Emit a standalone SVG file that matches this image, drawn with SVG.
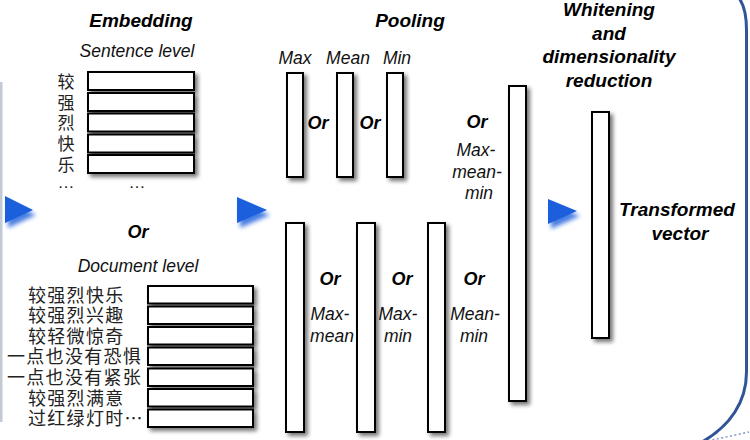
<svg xmlns="http://www.w3.org/2000/svg" width="750" height="440" viewBox="0 0 750 440">
  <defs>
    <filter id="boxShadow" x="-50%" y="-50%" width="200%" height="200%">
      <feGaussianBlur in="SourceAlpha" stdDeviation="2"/>
      <feOffset dx="3" dy="3" result="blur"/>
      <feComponentTransfer><feFuncA type="linear" slope="0.55"/></feComponentTransfer>
      <feMerge><feMergeNode/><feMergeNode in="SourceGraphic"/></feMerge>
    </filter>
    <filter id="arrowShadow" x="-50%" y="-50%" width="200%" height="200%">
      <feGaussianBlur in="SourceGraphic" stdDeviation="2"/>
      <feOffset dx="3" dy="5" result="glow"/>
      <feComponentTransfer><feFuncA type="linear" slope="0.8"/></feComponentTransfer>
      <feMerge><feMergeNode/><feMergeNode in="SourceGraphic"/></feMerge>
    </filter>
    <style>
      .cell { fill: #ffffff; stroke: #000000; stroke-width: 2; filter: url(#boxShadow); }
      .title { font-family: "Liberation Sans", Arial, sans-serif; font-weight: bold; font-style: italic; font-size: 19px; fill: #000; text-anchor: middle; }
      .or { font-family: "Liberation Sans", Arial, sans-serif; font-weight: bold; font-style: italic; font-size: 18px; fill: #000; text-anchor: middle; }
      .lbl { font-family: "Liberation Sans", Arial, sans-serif; font-style: italic; font-size: 17.5px; fill: #111; text-anchor: middle; }
      .zh { font-family: "Noto Sans CJK SC", sans-serif; font-size: 17px; fill: #222; text-anchor: middle; }
      .zhdoc { font-family: "Noto Sans CJK SC", sans-serif; font-size: 18px; letter-spacing: 1.3px; fill: #222; }
      .dots { font-family: "Liberation Sans", Arial, sans-serif; font-size: 17px; fill: #222; text-anchor: middle; }
      .arrow { fill: #1b5fdc; filter: url(#arrowShadow); }
    </style>
  </defs>

  <rect width="750" height="440" fill="#ffffff"/>

  <!-- frame edges -->
  <rect x="0" y="82" width="2.5" height="340" fill="#c3c9d5"/>
  <path d="M739,-2 C744,5 746.5,14 746.5,30 L746.5,372 C746.5,402 730,426 702,442" fill="none" stroke="#2f5597" stroke-width="3"/>
  <path d="M708,441 L749,432" fill="none" stroke="#7c98cc" stroke-width="1.5" stroke-dasharray="2 2.5"/>

  <!-- Embedding: sentence level -->
  <g id="embedding-sentence">
    <text class="title" x="141" y="27">Embedding</text>
    <text class="lbl" x="137" y="57">Sentence level</text>
    <rect class="cell" x="88" y="72" width="106" height="18"/>
    <rect class="cell" x="88" y="93" width="106" height="18"/>
    <rect class="cell" x="88" y="113.5" width="106" height="18"/>
    <rect class="cell" x="88" y="134.5" width="106" height="18"/>
    <rect class="cell" x="88" y="155" width="106" height="18"/>
    <text class="zh" xml:lang="zh-Hans"><tspan x="66" y="87.5">较</tspan><tspan x="66" y="108.5">强</tspan><tspan x="66" y="129">烈</tspan><tspan x="66" y="150">快</tspan><tspan x="66" y="170.5">乐</tspan></text>
    <text class="dots" x="66" y="188">…</text>
    <text class="dots" x="137" y="188">…</text>
  </g>

  <text class="or" x="138" y="238">Or</text>

  <!-- Embedding: document level -->
  <g id="embedding-document">
    <text class="lbl" x="138" y="272">Document level</text>
    <rect class="cell" x="148" y="286" width="105" height="17.5"/>
    <rect class="cell" x="148" y="306.5" width="105" height="17.5"/>
    <rect class="cell" x="148" y="327" width="105" height="17.5"/>
    <rect class="cell" x="148" y="347.5" width="105" height="17.5"/>
    <rect class="cell" x="148" y="368.5" width="105" height="17.5"/>
    <rect class="cell" x="148" y="389" width="105" height="17.5"/>
    <rect class="cell" x="148" y="409.5" width="105" height="17.5"/>
    <text class="zhdoc" xml:lang="zh-Hans"><tspan x="28" y="301.5">较强烈快乐</tspan><tspan x="28" y="322">较强烈兴趣</tspan><tspan x="28" y="342.5">较轻微惊奇</tspan><tspan x="7" y="363">一点也没有恐惧</tspan><tspan x="7" y="384">一点也没有紧张</tspan><tspan x="28" y="404.5">较强烈满意</tspan><tspan x="28" y="425">过红绿灯时…</tspan></text>
  </g>

  <!-- Pooling: single strategies -->
  <g id="pooling-single">
    <text class="title" x="410" y="27">Pooling</text>
    <text class="lbl" x="295" y="64">Max</text>
    <text class="lbl" x="348" y="64">Mean</text>
    <text class="lbl" x="397" y="64">Min</text>
    <rect class="cell" x="287" y="73" width="16" height="104"/>
    <rect class="cell" x="337" y="73" width="16" height="104"/>
    <rect class="cell" x="387" y="73" width="16" height="104"/>
    <text class="or" x="318" y="129">Or</text>
    <text class="or" x="370" y="129">Or</text>
  </g>

  <!-- Pooling: max-mean-min -->
  <g id="pooling-max-mean-min">
    <text class="or" x="477" y="128">Or</text>
    <text class="lbl" x="476" y="156">Max-</text>
    <text class="lbl" x="477" y="178">mean-</text>
    <text class="lbl" x="479" y="199">min</text>
    <rect class="cell" x="509" y="86" width="17" height="315"/>
  </g>

  <!-- Pooling: pairwise strategies -->
  <g id="pooling-pairs">
    <rect class="cell" x="286" y="223" width="18" height="209"/>
    <rect class="cell" x="357" y="223" width="18" height="209"/>
    <rect class="cell" x="428" y="223" width="17" height="209"/>
    <text class="or" x="330" y="285">Or</text>
    <text class="lbl" x="330" y="320">Max-</text>
    <text class="lbl" x="332" y="342">mean</text>
    <text class="or" x="402" y="285">Or</text>
    <text class="lbl" x="398" y="320">Max-</text>
    <text class="lbl" x="398" y="342">min</text>
    <text class="or" x="474" y="285">Or</text>
    <text class="lbl" x="475" y="320">Mean-</text>
    <text class="lbl" x="474" y="342">min</text>
  </g>

  <!-- Whitening and dimensionality reduction -->
  <g id="whitening">
    <text class="title" x="609" y="16">Whitening</text>
    <text class="title" x="609" y="40">and</text>
    <text class="title" x="609" y="63">dimensionality</text>
    <text class="title" x="609" y="87">reduction</text>
    <rect class="cell" x="592" y="112" width="17" height="226"/>
    <text class="title" x="677" y="216">Transformed</text>
    <text class="title" x="680" y="240">vector</text>
  </g>

  <!-- flow arrows between stages -->
  <g id="connectors">
    <polygon class="arrow" points="5,196 5,223 33,210"/>
    <polygon class="arrow" points="237,197 237,223 267,210"/>
    <polygon class="arrow" points="548,199 548,224 577,211"/>
  </g>
</svg>
